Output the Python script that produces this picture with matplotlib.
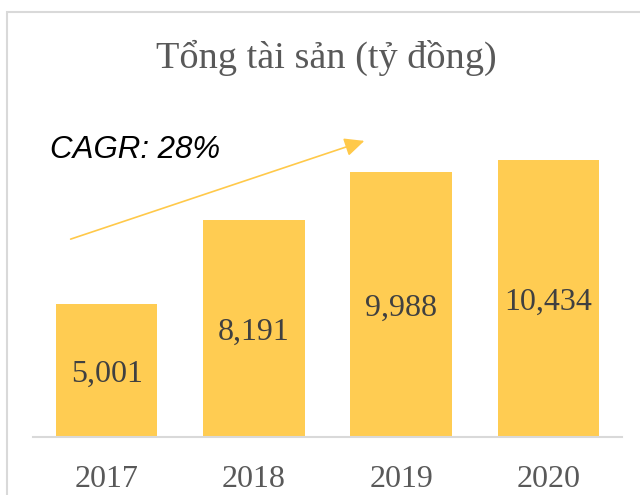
import matplotlib
matplotlib.use("Agg")
import matplotlib.pyplot as plt
from matplotlib.patches import Rectangle, FancyArrowPatch

years = ["2017", "2018", "2019", "2020"]
values = [5001, 8191, 9988, 10434]
value_labels = ["5,001", "8,191", "9,988", "10,434"]
title = "Tổng tài sản (tỷ đồng)"
cagr_text = "CAGR: 28%"

W, H = 640, 495
fig = plt.figure(figsize=(W / 100, H / 100), dpi=100)

# outer chart frame
fig.patches.append(Rectangle((7 / W, -0.1), 1.2, 1.1 - 12 / H,
                             transform=fig.transFigure, fill=False,
                             edgecolor="#D9D9D9", linewidth=1.5))

ax = fig.add_axes([33 / W, 58 / H, (622 - 33) / W, (437 - 119) / H])
x = range(len(years))
bars = ax.bar(x, values, width=0.69, color="#FFCC52", zorder=2)
ax.set_xlim(-0.5, 3.5)
ax.set_ylim(0, 12000)
for b, lab in zip(bars, value_labels):
    ax.text(b.get_x() + b.get_width() / 2, b.get_height() / 2, lab,
            ha="center", va="center_baseline", fontsize=23, color="#404040",
            family="Liberation Serif")

for s in ["top", "right", "left"]:
    ax.spines[s].set_visible(False)
ax.spines["bottom"].set_color("#D9D9D9")
ax.spines["bottom"].set_linewidth(1.5)
ax.set_yticks([])
ax.set_xticks(list(x))
ax.set_xticklabels(years, fontsize=23, color="#595959", family="Liberation Serif")
ax.tick_params(axis="x", length=0, pad=20)

fig.text(326 / W, 1 - 58 / H, title, ha="center", va="center", fontsize=27.5,
         color="#595959", family="Liberation Serif")

fig.text(50 / W, 1 - 150 / H, cagr_text, ha="left", va="center", fontsize=22.5,
         style="italic", color="black", family="Liberation Sans")

fig.add_artist(FancyArrowPatch(
    (68 / W, 1 - 240 / H), (367 / W, 1 - 140 / H), transform=fig.transFigure,
    arrowstyle="-|>,head_length=6,head_width=2.8", mutation_scale=2.0,
    color="#FFC94A", linewidth=1.2))

fig.savefig("out.png", dpi=100)
